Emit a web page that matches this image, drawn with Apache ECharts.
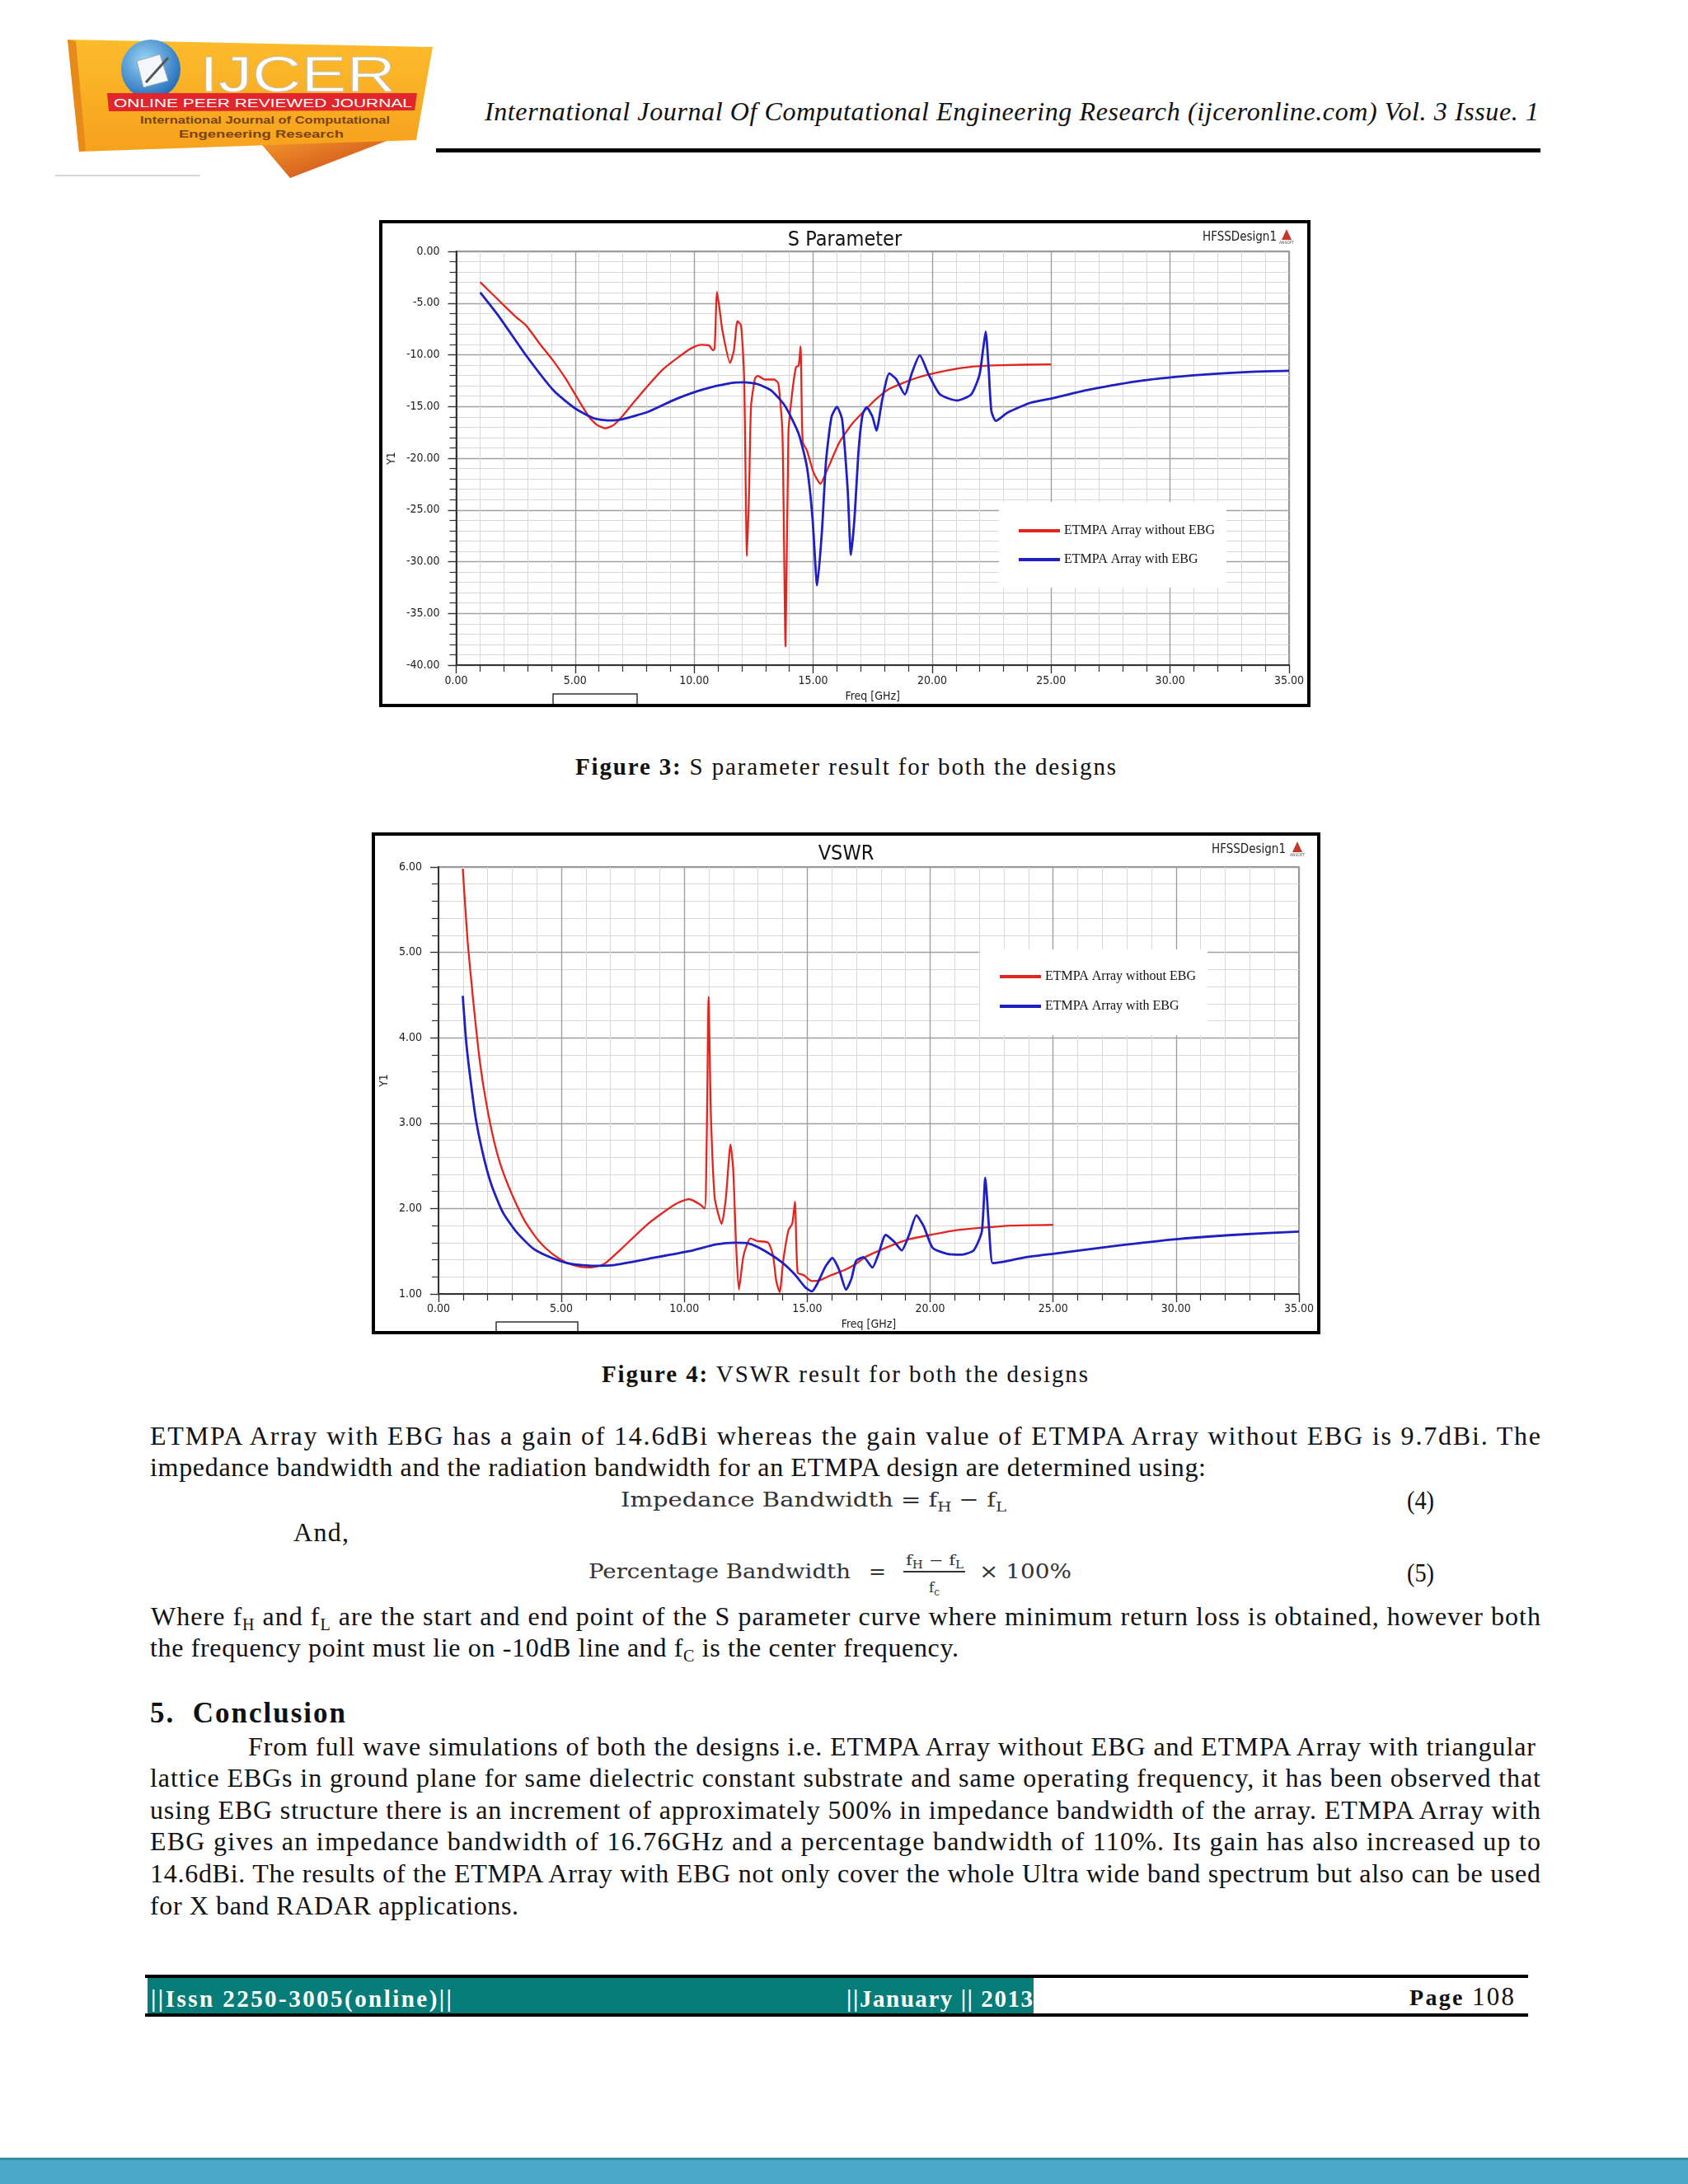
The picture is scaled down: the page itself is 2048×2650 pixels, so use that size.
<!DOCTYPE html>
<html>
<head>
<meta charset="utf-8">
<title>IJCER page 108</title>
<script src="https://cdn.jsdelivr.net/npm/echarts/dist/echarts.min.js"></script>
<style>
html,body{margin:0;padding:0;background:#fff;}
body{width:2048px;height:2650px;position:relative;overflow:hidden;}
.abs{position:absolute;}
svg text{white-space:pre;}
</style>
</head>
<body>

<!-- Logo -->
<svg class="abs" style="left:0;top:0" width="600" height="240">
  <defs>
    <linearGradient id="og" x1="0" y1="0" x2="0" y2="1">
      <stop offset="0" stop-color="#fcbc2c"/><stop offset="1" stop-color="#f6a11c"/>
    </linearGradient>
    <linearGradient id="fold" x1="0" y1="0" x2="1" y2="1">
      <stop offset="0" stop-color="#f39a2a"/><stop offset="1" stop-color="#c8401a"/>
    </linearGradient>
    <radialGradient id="globe" cx="0.4" cy="0.35" r="0.75">
      <stop offset="0" stop-color="#9ad6f6"/><stop offset="1" stop-color="#1660b2"/>
    </radialGradient>
  </defs>
  <polygon points="318,176 482,166 352,216" fill="url(#fold)"/>
  <polygon points="82,48 525,57 505,170 96,184" fill="url(#og)"/>
  <polygon points="82,48 92,50 104,183 96,184" fill="#e68a1a"/>
  <circle cx="183" cy="84" r="36" fill="url(#globe)"/>
  <polygon points="166,74 194,66 204,98 174,106" fill="#f4f8fc" stroke="#9ab" stroke-width="1"/>
  <line x1="177" y1="100" x2="204" y2="70" stroke="#555" stroke-width="3"/>
  <text x="242" y="111" font-family="Liberation Sans, Arial, sans-serif" font-size="62" fill="#ffffff" stroke="#c8bca0" stroke-width="1" textLength="238" lengthAdjust="spacingAndGlyphs">IJCER</text>
  <polygon points="130,113 506,113 503,134 132,135" fill="#e0262b"/>
  <text x="138" y="130" font-family="Liberation Sans, Arial, sans-serif" font-size="15" fill="#ffffff" textLength="362" lengthAdjust="spacingAndGlyphs">ONLINE PEER REVIEWED JOURNAL</text>
  <text x="170" y="150" font-family="Liberation Sans, Arial, sans-serif" font-weight="bold" font-size="13" fill="#7a4310" textLength="303" lengthAdjust="spacingAndGlyphs">International Journal of Computational</text>
  <text x="217" y="167" font-family="Liberation Sans, Arial, sans-serif" font-weight="bold" font-size="13" fill="#7a4310" textLength="200" lengthAdjust="spacingAndGlyphs">Engeneering Research</text>
  <line x1="67" y1="213" x2="243" y2="213" stroke="#d8d8d8" stroke-width="2"/>
</svg>

<!-- Page text -->
<svg class="abs" style="left:0;top:0;pointer-events:none" width="2048" height="2650" font-family="'Liberation Serif', 'Times New Roman', serif" fill="#111">
  <text x="588" y="146" font-style="italic" font-size="32" textLength="1279" lengthAdjust="spacing">International Journal Of Computational Engineering Research (ijceronline.com) Vol. 3 Issue. 1</text>
  <rect x="529" y="180" width="1340" height="5" fill="#000"/>

  <text x="698" y="940" font-size="29" textLength="656" lengthAdjust="spacing"><tspan font-weight="bold">Figure 3:</tspan> S parameter result for both the designs</text>
  <text x="730" y="1677" font-size="29" textLength="590" lengthAdjust="spacing"><tspan font-weight="bold">Figure 4:</tspan> VSWR result for both the designs</text>

  <text x="182" y="1753" font-size="32" textLength="1687" lengthAdjust="spacing">ETMPA Array with EBG has a gain of 14.6dBi whereas the gain value of ETMPA Array without EBG is 9.7dBi. The</text>
  <text x="182" y="1791" font-size="32" textLength="1281" lengthAdjust="spacing">impedance bandwidth and the radiation bandwidth for an ETMPA design are determined using:</text>

  <text x="753" y="1828" font-family="'DejaVu Serif', serif" font-size="25" fill="#333" textLength="468" lengthAdjust="spacingAndGlyphs">Impedance Bandwidth = f<tspan dy="6" font-size="17">H</tspan><tspan dy="-6"> − f</tspan><tspan dy="6" font-size="17">L</tspan></text>
  <text x="1707" y="1831" font-size="32" textLength="33" lengthAdjust="spacingAndGlyphs">(4)</text>
  <text x="356" y="1870" font-size="32" textLength="67" lengthAdjust="spacing">And,</text>

  <text x="714" y="1915" font-family="'DejaVu Serif', serif" font-size="25" fill="#333" textLength="318" lengthAdjust="spacingAndGlyphs">Percentage Bandwidth</text>
  <text x="1054" y="1915" font-family="'DejaVu Serif', serif" font-size="25" fill="#333">=</text>
  <text x="1099" y="1899" font-family="'DejaVu Serif', serif" font-size="17" fill="#333" textLength="70" lengthAdjust="spacingAndGlyphs">f<tspan dy="4" font-size="12">H</tspan><tspan dy="-4"> − f</tspan><tspan dy="4" font-size="12">L</tspan></text>
  <rect x="1096" y="1906" width="75" height="2" fill="#333"/>
  <text x="1127" y="1932" font-family="'DejaVu Serif', serif" font-size="17" fill="#333">f<tspan dy="4" font-size="12">c</tspan></text>
  <text x="1188" y="1915" font-family="'DejaVu Serif', serif" font-size="25" fill="#333" textLength="112" lengthAdjust="spacingAndGlyphs">× 100%</text>
  <text x="1707" y="1919" font-size="32" textLength="33" lengthAdjust="spacingAndGlyphs">(5)</text>

  <text x="183" y="1972" font-size="32" textLength="1686" lengthAdjust="spacing">Where f<tspan dy="6" font-size="20">H</tspan><tspan dy="-6"> and f</tspan><tspan dy="6" font-size="20">L</tspan><tspan dy="-6"> are the start and end point of the S parameter curve where minimum return loss is obtained, however both</tspan></text>
  <text x="182" y="2010" font-size="32" textLength="981" lengthAdjust="spacing">the frequency point must lie on -10dB line and f<tspan dy="6" font-size="20">C</tspan><tspan dy="-6"> is the center frequency.</tspan></text>

  <text x="182" y="2090" font-size="35" font-weight="bold" textLength="237" lengthAdjust="spacing">5.  Conclusion</text>
  <text x="301" y="2130" font-size="32" textLength="1562" lengthAdjust="spacing">From full wave simulations of both the designs i.e. ETMPA Array without EBG and ETMPA Array with triangular</text>
  <text x="182" y="2168" font-size="32" textLength="1687" lengthAdjust="spacing">lattice EBGs in ground plane for same dielectric constant substrate and same operating frequency, it has been observed that</text>
  <text x="182" y="2207" font-size="32" textLength="1687" lengthAdjust="spacing">using EBG structure there is an increment of approximately 500% in impedance bandwidth of the array. ETMPA Array with</text>
  <text x="182" y="2245" font-size="32" textLength="1687" lengthAdjust="spacing">EBG gives an impedance bandwidth of 16.76GHz and a percentage bandwidth of 110%. Its gain has also increased up to</text>
  <text x="182" y="2284" font-size="32" textLength="1687" lengthAdjust="spacing">14.6dBi. The results of the ETMPA Array with EBG not only cover the whole Ultra wide band spectrum but also can be used</text>
  <text x="182" y="2323" font-size="32" textLength="447" lengthAdjust="spacing">for X band RADAR applications.</text>

  <!-- footer -->
  <rect x="176" y="2396" width="1678" height="4" fill="#000"/>
  <rect x="179" y="2400" width="1075" height="43" fill="#077d7a"/>
  <rect x="176" y="2443" width="1678" height="4" fill="#000"/>
  <text x="183" y="2435" font-size="29" font-weight="bold" fill="#ffffff" textLength="365" lengthAdjust="spacing">||Issn 2250-3005(online)||</text>
  <text x="1027" y="2435" font-size="29" font-weight="bold" fill="#ffffff" textLength="226" lengthAdjust="spacing">||January || 2013</text>
  <text x="1710" y="2433" font-size="31" textLength="127" lengthAdjust="spacing"><tspan font-weight="bold" font-size="28">Page </tspan>108</text>

  <rect x="0" y="2619" width="2048" height="31" fill="#4ca8c9"/>
  <rect x="0" y="2618" width="2048" height="3" fill="#3b8e9f"/>
</svg>

<div id="c1" class="abs" style="left:460px;top:267px;width:1130px;height:591px;"></div>
<div id="c2" class="abs" style="left:451px;top:1010px;width:1151px;height:609px;"></div>

<script>
// ---------- Data ----------
// Figure 3: S parameter (dB) vs frequency (GHz)
const sFreqRed = [1.01,1.81,2.49,2.95,3.5,4.10,4.6,5.01,5.58,5.93,6.27,6.61,6.96,7.53,8.67,9.82,10.27,10.62,10.79,10.86,10.96,11.05,11.19,11.51,11.67,11.82,11.97,12.10,12.22,12.31,12.39,12.56,12.68,12.96,13.36,13.54,13.71,13.84,13.96,14.11,14.28,14.39,14.47,14.56,14.74,15.02,15.31,15.54,16.11,16.68,17.25,17.6,18.2,19.38,20.57,21.76,22.94,25.0];
const sRed     = [-2.98,-4.78,-6.3,-7.2,-8.9,-10.65,-12.3,-13.87,-16.0,-16.8,-17.1,-16.8,-16.0,-14.4,-11.45,-9.44,-9.03,-9.09,-9.57,-9.4,-3.92,-5.27,-7.69,-10.78,-9.57,-6.75,-7.15,-12.26,-29.46,-23.0,-14.95,-12.26,-12.04,-12.39,-12.39,-12.8,-17.6,-38.2,-17.6,-13.87,-11.18,-11.05,-9.17,-18.44,-19.25,-21.4,-22.47,-21.4,-18.44,-16.56,-15.2,-14.37,-13.29,-12.21,-11.54,-11.13,-11.0,-10.92];
const sFreqBlue = [1.01,1.81,2.95,4.10,5.01,5.81,6.38,6.96,8.10,9.24,10.39,11.53,12.10,12.68,13.25,13.82,14.39,14.74,14.97,15.17,15.37,15.54,15.77,16.0,16.22,16.45,16.59,16.74,16.91,17.08,17.25,17.49,17.66,17.9,18.2,18.49,18.85,19.15,19.48,19.86,20.33,21.04,21.64,21.99,22.14,22.25,22.37,22.49,22.68,23.18,24.13,25.0,26.5,28.87,31.25,33.62,35.0];
const sBlue     = [-3.98,-6.34,-10.1,-13.47,-15.2,-16.16,-16.34,-16.24,-15.48,-14.27,-13.33,-12.74,-12.66,-12.85,-13.47,-14.95,-17.63,-20.86,-25.7,-32.28,-27.04,-20.32,-16.02,-15.03,-16.29,-23.0,-29.33,-25.7,-19.25,-15.75,-15.08,-15.98,-17.33,-14.37,-11.81,-12.35,-13.83,-11.75,-10.05,-11.94,-13.83,-14.42,-13.83,-11.94,-9.51,-7.76,-11.13,-15.44,-16.39,-15.58,-14.64,-14.23,-13.42,-12.48,-11.94,-11.62,-11.54];

// Figure 4: VSWR vs frequency (GHz)
const vFreqRed = [0.99,1.19,1.41,1.63,1.86,2.19,2.52,2.97,3.52,4.08,4.63,5.19,5.74,6.19,6.74,7.41,8.52,9.63,10.19,10.63,10.83,10.91,10.99,11.08,11.24,11.52,11.69,11.88,11.99,12.1,12.22,12.41,12.69,12.97,13.41,13.61,13.74,13.88,14.02,14.24,14.39,14.5,14.61,14.86,15.19,15.52,15.97,16.52,16.97,17.35,17.95,18.54,19.14,19.98,20.93,22.12,23.32,25.0];
const vRed     = [5.98,5.12,4.45,3.85,3.38,2.88,2.52,2.18,1.85,1.62,1.47,1.37,1.32,1.31,1.35,1.52,1.82,2.05,2.11,2.05,2.0,2.78,4.48,3.12,2.12,1.82,2.12,2.75,2.45,1.62,1.05,1.45,1.65,1.62,1.6,1.45,1.15,1.02,1.38,1.75,1.82,2.08,1.25,1.22,1.15,1.16,1.22,1.28,1.35,1.43,1.51,1.58,1.64,1.69,1.74,1.775,1.80,1.81];
const vFreqBlue = [0.99,1.13,1.3,1.52,1.86,2.19,2.63,3.19,3.86,4.63,5.41,6.3,7.19,8.52,10.19,11.3,12.08,12.63,13.3,13.97,14.52,14.91,15.19,15.41,15.74,16.02,16.3,16.58,16.8,16.99,17.29,17.65,17.89,18.19,18.54,18.84,19.14,19.44,19.74,20.1,20.69,21.29,21.77,22.1,22.24,22.39,22.54,22.84,23.91,25.0,27.49,30.0,32.27,35.0];
const vBlue     = [4.49,3.95,3.52,3.05,2.58,2.25,1.95,1.72,1.53,1.42,1.35,1.33,1.34,1.41,1.50,1.58,1.60,1.59,1.50,1.37,1.22,1.08,1.03,1.12,1.32,1.42,1.28,1.05,1.18,1.39,1.43,1.31,1.46,1.69,1.61,1.51,1.69,1.92,1.79,1.54,1.47,1.46,1.51,1.73,2.36,1.79,1.36,1.37,1.43,1.47,1.56,1.64,1.69,1.73];

const seriesNames = ['ETMPA Array without EBG', 'ETMPA Array with EBG'];
const xTicks = {min: 0, max: 35, step: 5};
const sTicks = {min: -40, max: 0, step: 5};
const vTicks = {min: 1, max: 6, step: 1};

// ---------- Styling ----------
const FN = '"Liberation Sans Narrow","Arial Narrow","DejaVu Sans Condensed",sans-serif';
const FS = '"Liberation Serif","Times New Roman",serif';
const RED = '#e2261f';
const BLUE = '#2020c2';

function pairs(xs, ys) { return xs.map((x, i) => [x, ys[i]]); }

function axisStyle(minorSplit) {
  return {
    axisLine: {show: true, onZero: false, lineStyle: {color: '#333', width: 2}},
    axisTick: {show: true, length: 10, lineStyle: {color: '#333', width: 1.4}},
    minorTick: {show: true, splitNumber: minorSplit, length: 8, lineStyle: {color: '#333', width: 1.2}},
    splitLine: {show: true, lineStyle: {color: '#a0a0a0', width: 1.4}},
    minorSplitLine: {show: true, lineStyle: {color: '#d8d8d8', width: 1}},
  };
}

function build(c) {
  return {
    animation: false,
    backgroundColor: '#ffffff',
    title: {text: c.title, left: 'center', top: c.titleTop,
      textStyle: {fontFamily: FN, fontSize: 25, fontWeight: 'normal', color: '#111'}},
    legend: {
      orient: 'vertical', left: c.legLeft, top: c.legTop, icon: 'rect',
      itemWidth: 50, itemHeight: 4, itemGap: c.legGap,
      backgroundColor: '#ffffff', padding: c.legPad,
      textStyle: {fontFamily: FS, fontSize: 16, color: '#111'},
      data: seriesNames
    },
    grid: {left: c.gl, right: c.gr, top: c.gt, bottom: c.gb, show: true,
      borderColor: '#6a6a6a', borderWidth: 1.5, backgroundColor: '#ffffff'},
    xAxis: Object.assign({
      type: 'value', min: xTicks.min, max: xTicks.max, interval: xTicks.step,
      name: 'Freq [GHz]', nameLocation: 'middle', nameGap: c.xNameGap,
      nameTextStyle: {fontFamily: FN, fontSize: 14, color: '#222'},
      axisLabel: {formatter: v => v.toFixed(2), fontFamily: FN, fontSize: 14, color: '#222', margin: c.xLabMargin}
    }, axisStyle(5)),
    yAxis: Object.assign({
      type: 'value', min: c.y.min, max: c.y.max, interval: c.y.step,
      name: 'Y1', nameLocation: 'middle', nameGap: c.yNameGap, nameRotate: 90,
      nameTextStyle: {fontFamily: FN, fontSize: 14, color: '#222'},
      axisLabel: {formatter: v => v.toFixed(2), fontFamily: FN, fontSize: 14, color: '#222', margin: c.yLabMargin}
    }, axisStyle(5)),
    series: [
      {name: seriesNames[0], type: 'line', data: c.red, showSymbol: false, symbol: 'none',
       smooth: 0.2, clip: true, color: RED, lineStyle: {color: RED, width: 2.3}, z: 3},
      {name: seriesNames[1], type: 'line', data: c.blue, showSymbol: false, symbol: 'none',
       smooth: 0.2, clip: true, color: BLUE, lineStyle: {color: BLUE, width: 2.8}, z: 4}
    ],
    graphic: [
      {type: 'rect', shape: {x: 2, y: 2, width: c.W - 4, height: c.H - 4},
       style: {fill: 'none', stroke: '#000', lineWidth: 4}, z: 100},
      {type: 'text', x: c.hfssX, y: c.hfssY,
       style: {text: 'HFSSDesign1', fontFamily: FN, fontSize: 15, fill: '#222', verticalAlign: 'middle', align: 'left'}},
      {type: 'polygon', shape: {points: [[c.iconX + 7, c.hfssY - 10], [c.iconX + 1, c.hfssY + 3], [c.iconX + 13, c.hfssY + 3]]},
       style: {fill: '#c0392b'}},
      {type: 'text', x: c.iconX + 7, y: c.hfssY + 7,
       style: {text: 'ANSOFT', fontFamily: FN, fontSize: 5, fill: '#555', align: 'center', verticalAlign: 'middle'}},
      {type: 'rect', shape: {x: c.tabX, y: c.tabY, width: c.tabW, height: c.H - c.tabY + 4},
       style: {fill: '#fff', stroke: '#333', lineWidth: 1.5}, z: 50}
    ]
  };
}

const c1 = echarts.init(document.getElementById('c1'), null, {renderer: 'canvas'});
c1.setOption(build({
  W: 1130, H: 591, title: 'S Parameter', titleTop: 7,
  gl: 84, gr: 26, gt: 38, gb: 51,
  y: sTicks, yNameGap: 60, yLabMargin: 20, xNameGap: 30, xLabMargin: 12,
  legLeft: 752, legTop: 342, legGap: 19, legPad: [27, 14, 26, 24],
  red: pairs(sFreqRed, sRed), blue: pairs(sFreqBlue, sBlue),
  hfssX: 999, hfssY: 21, iconX: 1094, tabX: 211, tabY: 575, tabW: 102
}));

const c2 = echarts.init(document.getElementById('c2'), null, {renderer: 'canvas'});
c2.setOption(build({
  W: 1151, H: 609, title: 'VSWR', titleTop: 9,
  gl: 75, gr: 26, gt: 42, gb: 49,
  y: vTicks, yNameGap: 48, yLabMargin: 20, xNameGap: 29, xLabMargin: 11,
  legLeft: 738, legTop: 142, legGap: 20, legPad: [25, 14, 27, 24],
  red: pairs(vFreqRed, vRed), blue: pairs(vFreqBlue, vBlue),
  hfssX: 1019, hfssY: 21, iconX: 1116, tabX: 151, tabY: 594, tabW: 99
}));
</script>
</body>
</html>
